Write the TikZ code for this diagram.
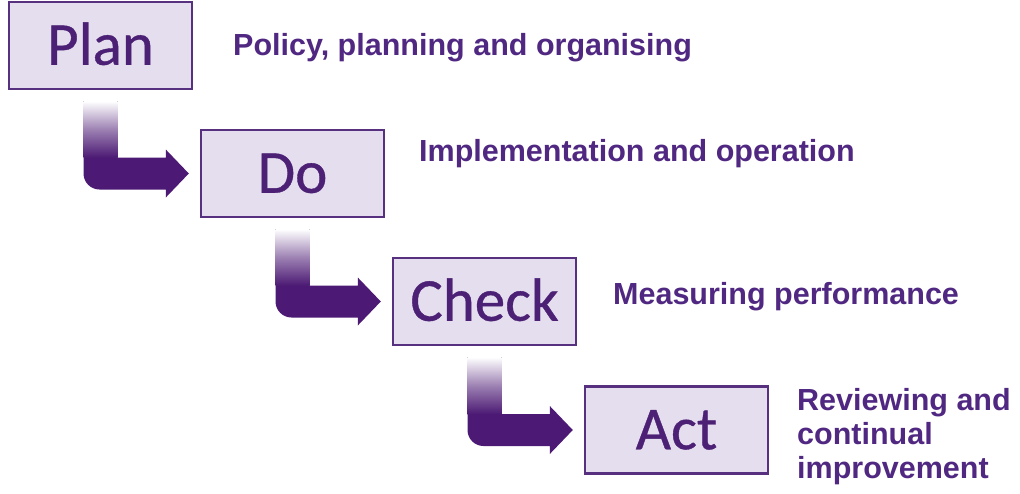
\documentclass[tikz,border=0pt]{standalone}
\usepackage{fontspec}
\setmainfont{Liberation Sans}
\newfontfamily\boxfont[FakeBold=0.6]{Carlito}
\usetikzlibrary{calc}
\definecolor{boxfill}{RGB}{228,222,238}
\definecolor{boxline}{RGB}{88,48,128}
\definecolor{boxtext}{RGB}{76,32,116}
\definecolor{arrowpurple}{RGB}{76,26,116}
\definecolor{labeltext}{RGB}{80,40,130}
\tikzset{
  stagebox/.style={draw=boxline, line width=2.4pt, fill=boxfill,
    minimum width=183pt, minimum height=87pt, inner sep=0pt,
    text=boxtext, font=\boxfont\fontsize{61}{61}\selectfont,
    text height=38.5pt, text depth=0pt},
  stagelabel/.style={anchor=west, inner sep=0pt, text=labeltext,
    font=\bfseries\fontsize{30.5}{34}\selectfont, align=left},
}
\newcommand{\stepArrow}[2]{%
  \fill[arrowpurple] let \p1=(#1.south), \p2=(#2.west) in
    (\x1-17pt,\y1-11pt) -- (\x1+17pt,\y1-11pt) -- (\x1+17pt,\y2+16pt)
    -- (\x2-34pt,\y2+16pt) -- (\x2-34pt,\y2+24pt) -- (\x2-11pt,\y2)
    -- (\x2-34pt,\y2-24pt) -- (\x2-34pt,\y2-16pt) -- (\x1-1pt,\y2-16pt)
    arc[start angle=270, end angle=180, radius=16pt] -- cycle;
  \shade[top color=white, bottom color=arrowpurple, middle color=arrowpurple!55] let \p1=(#1.south), \p2=(#2.west) in
    (\x1-17pt,\y1-11pt) rectangle (\x1+17pt,\y2+16pt);
}
\begin{document}
\begin{tikzpicture}[x=1pt,y=1pt]
\useasboundingbox (0,0) rectangle (1020,-493);
\node[stagebox] (plan)  at (100.5,-45.5) {Plan};
\node[stagebox] (do)    at (292.5,-173.5) {Do};
\node[stagebox] (check) at (484.5,-301.5) {Check};
\node[stagebox] (act)   at (676.5,-430) {Act};
\stepArrow{plan}{do}
\stepArrow{do}{check}
\stepArrow{check}{act}
\node[stagelabel] (lplan)  at (233,-48) {Policy, planning and organising};
\node[stagelabel] (ldo)    at (419,-154) {Implementation and operation};
\node[stagelabel] (lcheck) at (613,-297) {Measuring performance};
\node[stagelabel] (lact)   at (797,-437) {Reviewing and\\continual\\improvement};
\end{tikzpicture}
\end{document}
